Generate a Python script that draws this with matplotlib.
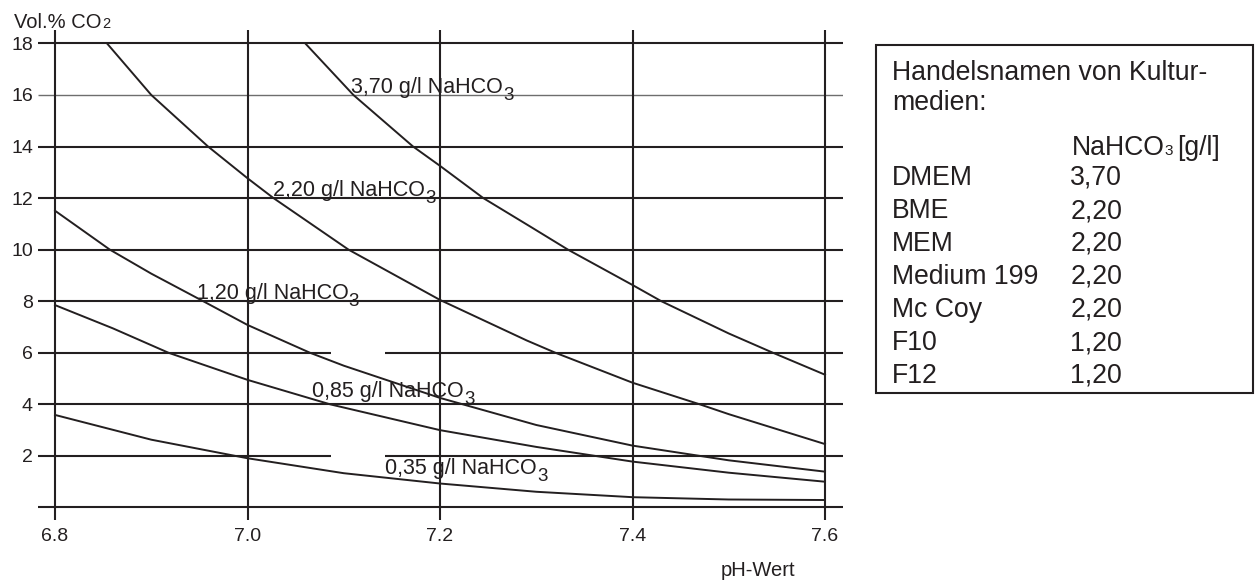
import matplotlib.pyplot as plt
from matplotlib.patches import Rectangle

plt.rcParams['font.family'] = ['Liberation Sans', 'DejaVu Sans']

INK = '#231f20'
W, H = 1257, 584

# Curves: pH -> Vol.% CO2, one per NaHCO3 concentration
ph_370 = [7.060, 7.110, 7.172, 7.200, 7.245, 7.294, 7.333, 7.400, 7.430, 7.500, 7.546, 7.600]
co2_370 = [18.0, 16.0, 14.0, 13.25, 12.0, 10.89, 10.0, 8.63, 8.0, 6.75, 6.0, 5.15]

ph_220 = [6.854, 6.900, 6.959, 7.000, 7.027, 7.105, 7.200, 7.290, 7.320, 7.400, 7.470, 7.500, 7.600]
co2_220 = [18.0, 16.0, 14.0, 12.77, 12.0, 10.0, 8.05, 6.48, 6.0, 4.84, 4.0, 3.62, 2.46]

ph_120 = [6.800, 6.857, 6.900, 6.954, 7.000, 7.065, 7.100, 7.200, 7.300, 7.400, 7.500, 7.600]
co2_120 = [11.51, 10.0, 9.07, 8.0, 7.08, 6.0, 5.5, 4.25, 3.2, 2.4, 1.83, 1.39]

ph_085 = [6.800, 6.860, 6.918, 7.000, 7.086, 7.200, 7.300, 7.400, 7.500, 7.600]
co2_085 = [7.85, 6.95, 6.0, 4.95, 4.0, 3.0, 2.35, 1.78, 1.35, 1.0]

ph_035 = [6.800, 6.900, 7.000, 7.100, 7.200, 7.300, 7.400, 7.500, 7.600]
co2_035 = [3.59, 2.63, 1.91, 1.33, 0.93, 0.61, 0.40, 0.31, 0.29]

curve_labels = ['3,70', '2,20', '1,20', '0,85', '0,35']
label_pos = [(7.108, 16.07), (7.026, 12.1), (6.947, 8.09), (7.067, 4.3), (7.143, 1.3)]

x_ticks = [6.8, 7.0, 7.2, 7.4, 7.6]
x_tick_labels = ['6.8', '7.0', '7.2', '7.4', '7.6']
y_lines = [0, 2, 4, 6, 8, 10, 12, 14, 16, 18]
y_tick_labels = ['', '2', '4', '6', '8', '10', '12', '14', '16', '18']
broken_lines = [2, 6]          # grid lines with a gap in the original
gap = (7.0864, 7.1429)

media = ['DMEM', 'BME', 'MEM', 'Medium 199', 'Mc Coy', 'F10', 'F12']
nahco3 = ['3,70', '2,20', '2,20', '2,20', '2,20', '1,20', '1,20']


def fx(px):
    return px / W


def fy(px):
    return 1 - px / H


fig = plt.figure(figsize=(W / 100, H / 100), dpi=100)
ax = fig.add_axes([fx(38), fy(520), (843 - 38) / W, 490 / H])
x0, x1 = 6.7823, 7.6187
ax.set_xlim(x0, x1)
ax.set_ylim(-0.485, 18.52)
for s in ax.spines.values():
    s.set_visible(False)

# grid
for y in y_lines:
    if y in broken_lines:
        ax.hlines(y, x0, gap[0], color=INK, lw=1.5)
        ax.hlines(y, gap[1], x1, color=INK, lw=1.5)
    elif y == 16:
        ax.hlines(y, x0, x1, color='#6e6e6e', lw=1.0)
    else:
        ax.hlines(y, x0, x1, color=INK, lw=1.5)
for x in x_ticks:
    ax.vlines(x, -0.485, 18.52, color=INK, lw=1.5)

ax.set_xticks(x_ticks, x_tick_labels)
ax.set_yticks(y_lines, y_tick_labels)
ax.tick_params(length=0, labelsize=14, labelcolor=INK)
ax.tick_params(axis='x', pad=5.5)
ax.tick_params(axis='y', pad=3.6)

renderer = fig.canvas.get_renderer()

# curves with their labels (subscript 3 drawn as its own, lowered text)
curves = [(ph_370, co2_370), (ph_220, co2_220), (ph_120, co2_120),
          (ph_085, co2_085), (ph_035, co2_035)]
for (px_, py_), lab, (lx, ly) in zip(curves, curve_labels, label_pos):
    ax.plot(px_, py_, color=INK, lw=1.4)
    t = ax.text(lx, ly, lab + ' g/l NaHCO', fontsize=15.5,
                color=INK, ha='left', va='baseline')
    bb = t.get_window_extent(renderer)
    base = ax.transData.transform((lx, ly))[1]
    fig.text((bb.x1 + 0.5) / W, (base - 7) / H, '3', fontsize=13.5,
             color=INK, va='baseline')

fig.text(fx(721), fy(576), 'pH-Wert', fontsize=14.5, color=INK, va='baseline')

# y axis title with small "2"
t = fig.text(fx(14), fy(28), 'Vol.% CO', fontsize=14.5, color=INK, va='baseline')
bb = t.get_window_extent(renderer)
fig.text((bb.x1 + 1) / W, fy(28), '2', fontsize=10.5, color=INK, va='baseline')

# table of media
fig.add_artist(Rectangle((fx(876), fy(393)), (1253 - 876) / W, (393 - 45) / H,
                         transform=fig.transFigure, fill=False, ec=INK, lw=1.5))
tsize = 19.2
fig.text(fx(892), fy(80), 'Handelsnamen von Kultur-', fontsize=tsize, color=INK, va='baseline')
fig.text(fx(892), fy(110), 'medien:', fontsize=tsize, color=INK, va='baseline')
h = fig.text(fx(1072), fy(155), 'NaHCO', fontsize=tsize, color=INK, va='baseline')
bb = h.get_window_extent(renderer)
s3 = fig.text(bb.x1 / W, fy(155), '3', fontsize=11, color=INK, va='baseline')
bb = s3.get_window_extent(renderer)
fig.text((bb.x1 + 4) / W, fy(155), '[g/l]', fontsize=tsize, color=INK, va='baseline')
for i, (name, val) in enumerate(zip(media, nahco3)):
    yb = 185 + i * 33
    fig.text(fx(892), fy(yb), name, fontsize=tsize, color=INK, va='baseline')
    fig.text(fx(1122), fy(yb), val, fontsize=tsize, color=INK, va='baseline', ha='right')

fig.savefig('out.png', dpi=100)
